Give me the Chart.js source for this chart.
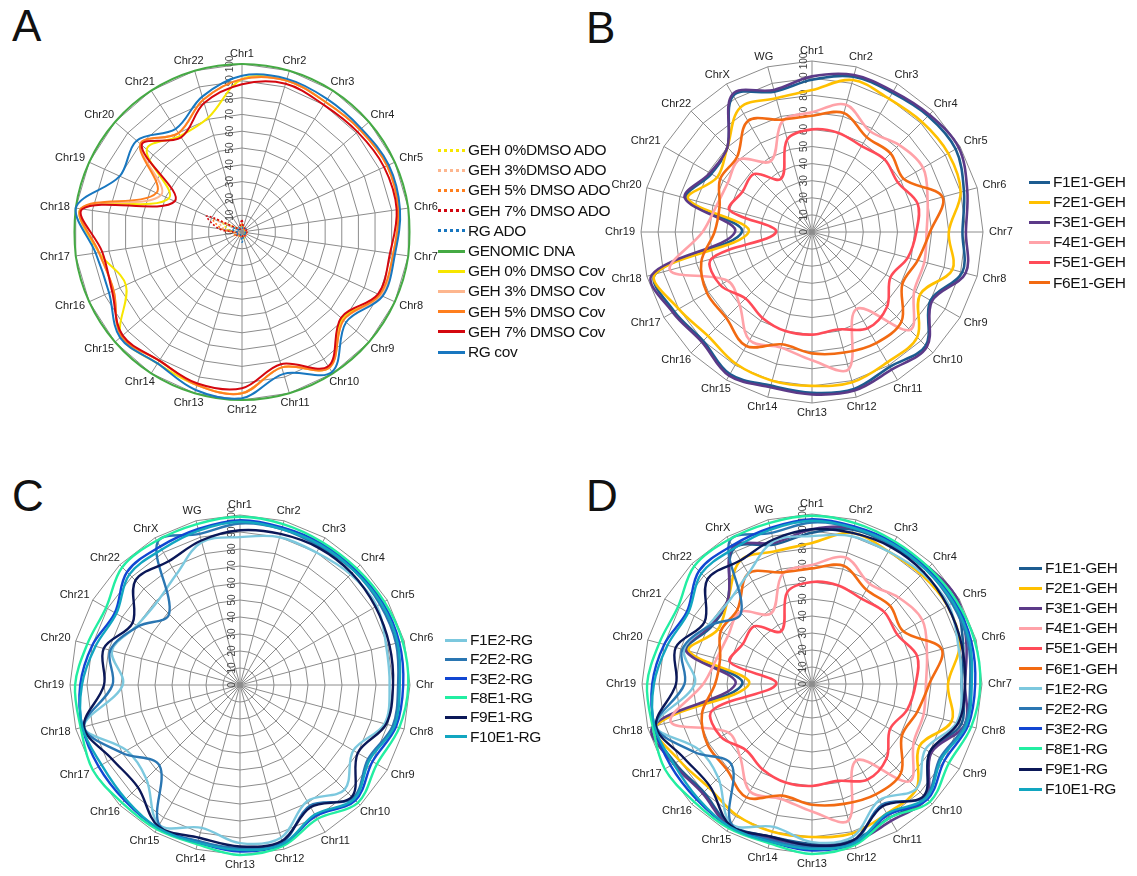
<!DOCTYPE html>
<html>
<head>
<meta charset="utf-8">
<script src="https://cdn.jsdelivr.net/npm/chart.js@4.4.1/dist/chart.umd.min.js"></script>
<style>
  html, body { margin: 0; padding: 0; background: #fff; }
  body { width: 1137px; height: 876px; position: relative; overflow: hidden;
         font-family: "Liberation Sans", Arial, sans-serif; }
  canvas { position: absolute; }
  .tag { position: absolute; font-size: 44px; line-height: 1; color: #111; }
  .legend { position: absolute; }
  .item { position: absolute; left: 0; height: 20px; display: flex; align-items: center;
          white-space: nowrap; font-size: 15.5px; letter-spacing: -0.4px; color: #111; }
  .swatch { display: inline-block; height: 0; margin-right: 3px; }
</style>
</head>
<body>
<div class="tag" style="left:12px;top:4px">A</div>
<div class="tag" style="left:586px;top:6px">B</div>
<div class="tag" style="left:12px;top:474px">C</div>
<div class="tag" style="left:586px;top:474px">D</div>

<canvas id="chartA"></canvas>
<canvas id="chartB"></canvas>
<canvas id="chartC"></canvas>
<canvas id="chartD"></canvas>

<div class="legend" id="legendA" style="left:438px;top:140px"></div>
<div class="legend" id="legendB" style="left:1029px;top:172px"></div>
<div class="legend" id="legendC" style="left:445px;top:630px"></div>
<div class="legend" id="legendD" style="left:1019px;top:558px"></div>

<script>
// ---- axis labels ----
const chrA = ['Chr1','Chr2','Chr3','Chr4','Chr5','Chr6','Chr7','Chr8','Chr9','Chr10','Chr11',
              'Chr12','Chr13','Chr14','Chr15','Chr16','Chr17','Chr18','Chr19','Chr20','Chr21','Chr22'];
const chrB = ['Chr1','Chr2','Chr3','Chr4','Chr5','Chr6','Chr7','Chr8','Chr9','Chr10','Chr11','Chr12',
              'Chr13','Chr14','Chr15','Chr16','Chr17','Chr18','Chr19','Chr20','Chr21','Chr22','ChrX','WG'];
const chrC = ['Chr1','Chr2','Chr3','Chr4','Chr5','Chr6','Chr','Chr8','Chr9','Chr10','Chr11','Chr12',
              'Chr13','Chr14','Chr15','Chr16','Chr17','Chr18','Chr19','Chr20','Chr21','Chr22','ChrX','WG'];
const ringTicks = [0, 10, 20, 30, 40, 50, 60, 70, 80, 90, 100];

// ---- panel A: allele drop-out (ADO) and coverage, % ----
const adoGeh0 = [4, 3, 2, 3, 2, 2, 3, 2, 3, 2, 4, 3, 2, 3, 2, 4, 3, 8, 12, 3, 2, 3];
const adoGeh3 = [3, 2, 3, 2, 3, 2, 2, 3, 2, 3, 2, 2, 3, 2, 4, 3, 2, 10, 15, 2, 3, 2];
const adoGeh5 = [5, 3, 2, 3, 2, 3, 2, 2, 3, 2, 3, 4, 2, 3, 2, 5, 4, 12, 19, 3, 2, 3];
const adoGeh7 = [7, 3, 3, 2, 3, 2, 3, 2, 2, 3, 2, 3, 3, 2, 3, 4, 3, 14, 23, 3, 2, 4];
const adoRg   = [3, 2, 2, 3, 2, 2, 2, 3, 2, 2, 3, 6, 2, 2, 3, 3, 2, 5, 6, 2, 3, 2];
const genomicDna = [100,100,100,100,100,100,100,100,100,100,100,100,100,100,100,100,100,100,100,100,100,100];
const covGeh0 = [91, 94, 92, 93, 95, 94, 91, 91, 79, 96, 84, 96, 95, 93, 95, 76, 86, 97, 48, 75, 68, 71];
const covGeh3 = [91, 94, 92, 93, 95, 94, 91, 91, 80, 96, 84, 96, 95, 91, 95, 84, 86, 97, 53, 80, 70, 82];
const covGeh5 = [91, 94, 92, 93, 95, 94, 91, 90, 80, 96, 84, 96, 95, 91, 95, 84, 86, 97, 56, 80, 70, 82];
const covGeh7 = [88, 92, 90, 91, 93, 93, 89, 89, 78, 95, 82, 93, 94, 91, 94, 85, 84, 96, 44, 79, 67, 80];
const covRg   = [93, 95, 94, 94, 96, 95, 92, 92, 82, 99, 88, 99, 98, 93, 96, 87, 88, 100, 80, 83, 73, 84];

// ---- panel B: GEH samples ----
const f1e1Geh = [89, 94, 94, 96, 97, 92, 88, 91, 80, 94, 91, 95, 94, 93, 96, 90, 93, 95, 41, 76, 68, 70, 92, 85];
const f2e1Geh = [83, 92, 90, 91, 92, 90, 80, 85, 73, 87, 88, 91, 90, 90, 89, 86, 90, 95, 37, 75, 64, 70, 84, 81];
const f3e1Geh = [91, 95, 95, 97, 99, 94, 90, 93, 81, 95, 93, 96, 95, 94, 97, 91, 94, 97, 45, 77, 69, 70, 93, 86];
const f4e1Geh = [70, 77, 68, 72, 75, 70, 67, 68, 69, 81, 52, 83, 75, 70, 73, 60, 57, 86, 64, 58, 57, 60, 48, 67];
const f5e1Geh = [60, 60, 58, 60, 58, 64, 61, 58, 53, 62, 65, 59, 60, 60, 58, 55, 62, 61, 21, 50, 47, 48, 36, 56];
const f6e1Geh = [68, 72, 64, 65, 62, 79, 69, 64, 61, 74, 75, 73, 71, 68, 77, 71, 71, 67, 57, 56, 62, 62, 75, 68];

// ---- panel C: RG samples ----
const f1e2Rg  = [87, 90, 90, 92, 93, 89, 88, 88, 77, 87, 79, 93, 93, 87, 95, 78, 77, 95, 69, 78, 70, 69, 75, 87];
const f2e2Rg  = [95, 95, 94, 95, 95, 95, 93, 93, 87, 94, 82, 96, 96, 95, 95, 67, 80, 95, 75, 79, 69, 59, 97, 92];
const f3e2Rg  = [97, 96, 96, 96, 97, 97, 96, 95, 90, 96, 89, 97, 98, 96, 97, 96, 96, 96, 94, 90, 85, 94, 94, 95];
const f8e1Rg  = [99, 98, 97, 97, 98, 99, 99, 97, 93, 98, 91, 98, 100, 97, 98, 98, 100, 97, 97, 93, 91, 98, 98, 98];
const f9e1Rg  = [91, 92, 93, 93, 92, 91, 90, 89, 80, 93, 83, 95, 95, 93, 96, 85, 87, 95, 80, 83, 73, 87, 84, 88];
const f10e1Rg = [96, 95, 95, 95, 96, 96, 94, 94, 88, 95, 88, 97, 97, 96, 97, 95, 94, 96, 93, 88, 84, 92, 92, 94];

// ---- series styling ----
const C = {
  yellow: '#F7E600', peach: '#FDB68E', orange: '#FF7F1E', red: '#D4070F', blue: '#1877C0', green: '#45AA44',
  b1: '#1C5C90', b2: '#FFC000', b3: '#5C3A88', b4: '#FFA2A8', b5: '#FF4B58', b6: '#F26A12',
  c1: '#7CC8DE', c2: '#2A76B2', c3: '#1146D2', c8: '#22EEA2', c9: '#0B1858', c10: '#12A6C0'
};

function series(label, data, color, width, dashed) {
  return { label, data, color, width, dashed: !!dashed };
}

const seriesA = [
  series('GEH 0%DMSO ADO', adoGeh0, C.yellow, 1.6, true),
  series('GEH 3%DMSO ADO', adoGeh3, C.peach, 1.6, true),
  series('GEH 5% DMSO ADO', adoGeh5, C.orange, 1.6, true),
  series('GEH 7% DMSO ADO', adoGeh7, C.red, 1.6, true),
  series('RG ADO', adoRg, C.blue, 1.6, true),
  series('GENOMIC DNA', genomicDna, C.green, 2),
  series('GEH 0% DMSO Cov', covGeh0, C.yellow, 2),
  series('GEH 3% DMSO Cov', covGeh3, C.peach, 2),
  series('GEH 5% DMSO Cov', covGeh5, C.orange, 2),
  series('GEH 7% DMSO Cov', covGeh7, C.red, 2),
  series('RG cov', covRg, C.blue, 2)
];
const seriesB = [
  series('F1E1-GEH', f1e1Geh, C.b1, 2.6),
  series('F2E1-GEH', f2e1Geh, C.b2, 2.6),
  series('F3E1-GEH', f3e1Geh, C.b3, 2.6),
  series('F4E1-GEH', f4e1Geh, C.b4, 2.6),
  series('F5E1-GEH', f5e1Geh, C.b5, 2.6),
  series('F6E1-GEH', f6e1Geh, C.b6, 2.6)
];
const seriesC = [
  series('F1E2-RG', f1e2Rg, C.c1, 2.4),
  series('F2E2-RG', f2e2Rg, C.c2, 2.4),
  series('F3E2-RG', f3e2Rg, C.c3, 2.4),
  series('F8E1-RG', f8e1Rg, C.c8, 2.4),
  series('F9E1-RG', f9e1Rg, C.c9, 2.4),
  series('F10E1-RG', f10e1Rg, C.c10, 2.4)
];
const seriesD = seriesB.concat(seriesC);

// Tick values along the first spoke and the chromosome names around the rim
const radarText = {
  id: 'radarText',
  beforeDatasetsDraw(chart, args, opts) {
    const s = chart.scales.r, ctx = chart.ctx;
    ctx.save();
    ctx.font = opts.tickSize + 'px "Liberation Sans", Arial, sans-serif';
    ctx.fillStyle = '#444';
    ctx.textAlign = 'center';
    ctx.textBaseline = 'middle';
    ringTicks.forEach(v => {
      const y = s.yCenter - s.getDistanceFromCenterForValue(v);
      ctx.save();
      ctx.translate(s.xCenter + opts.tickDx, y);
      ctx.rotate(-Math.PI / 2);
      ctx.fillText(String(v), 0, 0);
      ctx.restore();
    });
    ctx.restore();
  },
  afterDraw(chart, args, opts) {
    const s = chart.scales.r, ctx = chart.ctx;
    ctx.save();
    ctx.font = opts.labelSize + 'px "Liberation Sans", Arial, sans-serif';
    ctx.fillStyle = '#222';
    ctx.textAlign = 'center';
    ctx.textBaseline = 'middle';
    const h = opts.labelSize * 0.75;
    chart.data.labels.forEach((lab, i) => {
      const a = s.getIndexAngle(i);
      const sin = Math.sin(a), cos = Math.cos(a);
      const w = ctx.measureText(lab).width;
      const d = s.drawingArea + opts.labelGap;
      const x = s.xCenter + sin * (d + w / 2);
      const y = s.yCenter - cos * (d + h / 2);
      ctx.fillText(lab, x, y);
    });
    ctx.restore();
  }
};

function makeRadar(id, cfg) {
  const M = 70;
  const size = 2 * cfg.R + 2 * M;
  const cv = document.getElementById(id);
  cv.width = size; cv.height = size;
  cv.style.left = (cfg.cx - cfg.R - M) + 'px';
  cv.style.top = (cfg.cy - cfg.R - M) + 'px';
  const list = cfg.series.slice().reverse();
  return new Chart(cv, {
    type: 'radar',
    data: {
      labels: cfg.labels,
      datasets: list.map(sr => ({
        label: sr.label,
        data: sr.data,
        borderColor: sr.color,
        backgroundColor: 'transparent',
        borderWidth: sr.width,
        borderDash: sr.dashed ? [2, 2] : [],
        fill: false,
        tension: cfg.tension,
        pointRadius: 0,
        pointHoverRadius: 0
      }))
    },
    options: {
      responsive: false,
      animation: false,
      events: [],
      layout: { padding: M },
      plugins: {
        legend: { display: false },
        tooltip: { enabled: false },
        radarText: { tickSize: 10, tickDx: cfg.tickDx, labelSize: 11, labelGap: cfg.labelGap }
      },
      scales: {
        r: {
          min: 0, max: 100,
          ticks: { stepSize: 10, display: false },
          grid: { color: '#8c8c8c', lineWidth: 1 },
          angleLines: { color: '#8c8c8c', lineWidth: 1 },
          pointLabels: { display: false }
        }
      }
    },
    plugins: [radarText]
  });
}

makeRadar('chartA', { cx: 242, cy: 232, R: 168, labels: chrA, series: seriesA, tension: 0.35, tickDx: -12, labelGap: 6 });
makeRadar('chartB', { cx: 812, cy: 232, R: 171, labels: chrB, series: seriesB, tension: 0.35, tickDx: -8, labelGap: 6 });
makeRadar('chartC', { cx: 240, cy: 685, R: 170, labels: chrC, series: seriesC, tension: 0.35, tickDx: -8, labelGap: 6 });
makeRadar('chartD', { cx: 812, cy: 684, R: 170, labels: chrB, series: seriesD, tension: 0.35, tickDx: -9, labelGap: 6 });

// Legends built from the same series lists
function buildLegend(id, list, lineLen, step, thick) {
  const box = document.getElementById(id);
  list.forEach((sr, i) => {
    const it = document.createElement('div');
    it.className = 'item';
    it.style.top = (i * step) + 'px';
    const sw = document.createElement('span');
    sw.className = 'swatch';
    sw.style.width = lineLen + 'px';
    sw.style.borderTop = (sr.dashed ? thick : thick) + 'px ' + (sr.dashed ? 'dotted ' : 'solid ') + sr.color;
    it.appendChild(sw);
    it.appendChild(document.createTextNode(sr.label));
    box.appendChild(it);
  });
}
buildLegend('legendA', seriesA, 27, 20.2, 3);
buildLegend('legendB', seriesB, 21, 20.1, 3);
buildLegend('legendC', seriesC, 22, 19.3, 3);
buildLegend('legendD', seriesD, 23, 20.1, 3);
</script>
</body>
</html>
